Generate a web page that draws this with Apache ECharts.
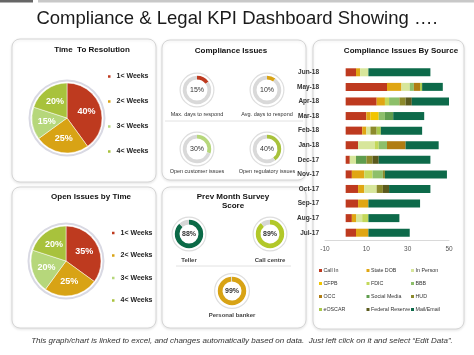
<!DOCTYPE html>
<html><head><meta charset="utf-8">
<script src="https://cdn.jsdelivr.net/npm/echarts@6/dist/echarts.min.js"></script>
<style>html,body{margin:0;padding:0;background:#fff}#c{width:474px;height:355px}</style>
</head><body><div id="c"></div>
<script>
// ---- data ----
const weekLabels = ['1< Weeks', '2< Weeks', '3< Weeks', '4< Weeks'];
const resolutionValues = [40, 25, 15, 20];
const openIssueValues = [35, 25, 20, 20];
const complianceLabels = ['Max. days to respond', 'Avg. days to respond', 'Open customer issues', 'Open regulatory issues'];
const complianceValues = [15, 10, 30, 40];
const surveyLabels = ['Teller', 'Call centre', 'Personal banker'];
const surveyValues = [88, 89, 99];
const months = ['Jul-17','Aug-17','Sep-17','Oct-17','Nov-17','Dec-17','Jan-18','Feb-18','Mar-18','Apr-18','May-18','Jun-18'];
const sources = ['Call In','State DOB','In Person','CFPB','FDIC','BBB','OCC','Social Media','HUD','eOSCAR','Federal Reserve','Mail/Email'];
const callIn   = [5, 3, 6, 6, 3, 2, 6, 8, 10, 15, 20, 5];
const stateDOB = [6, 2, 5, 3, 6, 0, 0, 2, 2, 4, 7, 2];
const inPerson = [0, 3, 0, 6, 0, 3, 8, 2, 0, 0, 4, 4];
const cfpb     = [0, 0, 0, 0, 0, 0, 0, 0, 4, 0, 0, 0];
const fdic     = [0, 3, 0, 0, 4, 0, 2, 0, 0, 2, 0, 0];
const bbb      = [0, 0, 0, 0, 5, 0, 4, 0, 3, 5, 2, 0];
const occ      = [0, 0, 0, 0, 0, 0, 9, 0, 0, 0, 3, 0];
const socialMedia = [0, 0, 0, 0, 0, 5, 0, 0, 4, 0, 0, 0];
const hud      = [0, 0, 0, 3, 1, 3, 0, 3, 0, 3, 0, 0];
const eoscar   = [0, 0, 0, 0, 0, 0, 0, 2, 0, 0, 1, 0];
const fedReserve = [0, 0, 0, 3, 0, 3, 0, 0, 0, 3, 0, 0];
const mailEmail = [20, 15, 25, 20, 30, 25, 16, 20, 15, 18, 10, 30];
const xTicks = [-10, 10, 30, 50];

// ---- styles ----
const FONT = 'Liberation Sans, Arial, sans-serif';
const weekColors = ['#BE3A1F', '#D8A315', '#B6D77B', '#A8C23C'];
const complianceColors = ['#BE3A1F', '#D8A315', '#B6D77B', '#A8C23C'];
const surveyColors = ['#0B6A47', '#B2C829', '#D8A315'];
const sourceColors = ['#BE3A1F','#E0A613','#D7E69B','#F2C500','#C3D85A','#8DBF6A','#B07D12','#5F9D4E','#8C8A2C','#A9C84B','#5A5A1E','#0D6A4A'];
const sourceData = [callIn, stateDOB, inPerson, cfpb, fdic, bbb, occ, socialMedia, hud, eoscar, fedReserve, mailEmail];

const chart = echarts.init(document.getElementById('c'), null, {renderer: 'canvas'});

function panel(x, y, w, h) {
  return {type: 'rect', z: 0, shape: {x: x, y: y, width: w, height: h, r: 8},
    style: {fill: '#fff', stroke: '#d6d6d6', lineWidth: 1, shadowBlur: 3, shadowColor: 'rgba(0,0,0,0.10)', shadowOffsetY: 1}};
}
function txt(x, y, t, size, weight, color, italic) {
  return {type: 'text', z: 5, x: x, y: y,
    style: {text: t, fontSize: size, fontWeight: weight || 'normal', fontStyle: italic ? 'italic' : 'normal', fill: color || '#111', fontFamily: FONT, align: 'center', verticalAlign: 'middle'}};
}

const series = [];
// big pies
function bigPie(center, values) {
  series.push({type: 'pie', silent: true, center: center, radius: [36.5, 38.5], label: {show: false}, z: 1,
    data: [{value: 1, name: 'ring', itemStyle: {color: '#d9d9e3'}}]});
  series.push({type: 'pie', center: center, radius: [0, 35], startAngle: 90, clockwise: true, z: 3,
    itemStyle: {borderColor: '#fff', borderWidth: 0.5},
    label: {show: true, position: 'inside', formatter: '{c}%', color: '#fff', fontWeight: 'bold', fontSize: 9, fontFamily: FONT},
    labelLine: {show: false},
    data: weekLabels.map((n, i) => ({name: n, value: values[i], itemStyle: {color: weekColors[i]}}))});
}
bigPie([67, 118], resolutionValues);
bigPie([66, 261], openIssueValues);

// small gauges
function ringGauge(center, value, color, inner, outer, ringR, baseColor, labelStyle) {
  series.push({type: 'pie', silent: true, center: center, radius: [ringR, ringR + 1.2], label: {show: false}, z: 3,
    data: [{value: 1, name: 'ring', itemStyle: {color: '#dedede'}}]});
  series.push({type: 'pie', silent: true, center: center, radius: [inner, outer], startAngle: 90, clockwise: true, z: 3,
    labelLine: {show: false},
    data: [
      {value: value, name: 'v', itemStyle: {color: color},
       label: Object.assign({show: true, position: 'center', formatter: '{c}%', fontFamily: FONT, color: '#333'}, labelStyle)},
      {value: 100 - value, name: 'rest', itemStyle: {color: baseColor}, label: {show: false}}
    ]});
}
const compCenters = [[197, 90], [267, 90], [197, 149], [267, 149]];
complianceValues.forEach((v, i) => ringGauge(compCenters[i], v, complianceColors[i], 10.5, 14.2, 16.3, '#d9d9d9', {fontSize: 7}));
const survCenters = [[189, 234], [270, 234], [232, 291]];
surveyValues.forEach((v, i) => ringGauge(survCenters[i], v, surveyColors[i], 9.5, 14.2, i === 2 ? 16.8 : 16.3, '#d6d6d6', {fontSize: 7, fontWeight: 'bold'}));

// stacked bars
sources.forEach((s, i) => {
  series.push({type: 'bar', name: s, stack: 'src', xAxisIndex: 0, yAxisIndex: 0, barWidth: 8, z: 3,
    itemStyle: {color: sourceColors[i]}, data: sourceData[i]});
});

const legendCols = [
  [sources[0], sources[3], sources[6], sources[9]],
  [sources[1], sources[4], sources[7], sources[10]],
  [sources[2], sources[5], sources[8], sources[11]]
];
const legendLefts = [319, 366.5, 411];
const legends = legendCols.map((d, i) => ({
  data: d, orient: 'vertical', left: legendLefts[i], top: 267, itemGap: 6, itemWidth: 3, itemHeight: 3,
  icon: 'rect', selectedMode: false, padding: 0,
  textStyle: {fontSize: 5.3, fontFamily: FONT, color: '#333', lineHeight: 7, padding: [0, 0, 0, -3.5]}
}));
legends.push({data: weekLabels, orient: 'vertical', left: 106, top: 72.5, itemGap: 17, itemWidth: 4.5, itemHeight: 4.5,
  icon: 'rect', selectedMode: false, padding: 0, textStyle: {fontSize: 7, fontWeight: 'bold', fontFamily: FONT, color: '#222', lineHeight: 8}});
legends.push({data: weekLabels, orient: 'vertical', left: 110, top: 229, itemGap: 14.5, itemWidth: 4.5, itemHeight: 4.5,
  icon: 'rect', selectedMode: false, padding: 0, textStyle: {fontSize: 7, fontWeight: 'bold', fontFamily: FONT, color: '#222', lineHeight: 8}});

const graphics = [
  {type: 'rect', z: 0, shape: {x: 0, y: 0, width: 33, height: 2.5}, style: {fill: '#666'}},
  {type: 'rect', z: 0, shape: {x: 38, y: 0, width: 436, height: 2.5}, style: {fill: '#c8c8c8'}},
  txt(237, 19, 'Compliance & Legal KPI Dashboard Showing ….', 18.5, 'normal', '#1a1a1a'),
  panel(12, 39, 144, 143),
  panel(12, 187, 144, 141),
  panel(162, 40, 144, 140),
  panel(162, 187, 144, 141),
  panel(313, 40, 151, 289),
  txt(92, 50, 'Time  To Resolution', 8, 'bold'),
  txt(91, 197, 'Open Issues by Time', 8, 'bold'),
  txt(231, 51, 'Compliance Issues', 8, 'bold'),
  txt(233, 197, 'Prev Month Survey', 8, 'bold'),
  txt(233, 206, 'Score', 8, 'bold'),
  txt(401, 51, 'Compliance Issues By Source', 8, 'bold'),
  {type: 'line', z: 2, shape: {x1: 165, y1: 121, x2: 303, y2: 121}, style: {stroke: '#e2e2e2', lineWidth: 1}},
  {type: 'line', z: 2, shape: {x1: 176, y1: 266, x2: 291, y2: 266}, style: {stroke: '#e2e2e2', lineWidth: 1}},
  txt(242, 341, 'This graph/chart is linked to excel, and changes automatically based on data.  Just left click on it and select “Edit Data”.', 8, 'normal', '#333', true)
];
const compLabelPos = [[197, 114], [267, 114], [197, 171], [267, 171]];
complianceLabels.forEach((l, i) => graphics.push(txt(compLabelPos[i][0], compLabelPos[i][1], l, 5.5, 'normal', '#333')));
const survLabelPos = [[189, 260], [270, 260], [232, 315]];
surveyLabels.forEach((l, i) => graphics.push(txt(survLabelPos[i][0], survLabelPos[i][1], l, 6, 'bold', '#444')));

chart.setOption({
  animation: false,
  backgroundColor: '#fff',
  textStyle: {fontFamily: FONT},
  legend: legends,
  grid: {left: 325, right: 25, top: 65, bottom: 115, containLabel: false},
  xAxis: {type: 'value', min: xTicks[0], max: xTicks[xTicks.length - 1], interval: xTicks[1] - xTicks[0],
    axisLine: {show: true, lineStyle: {color: '#d9d9d9'}}, axisTick: {show: false}, splitLine: {show: false},
    axisLabel: {fontSize: 6.5, color: '#555', margin: 6, fontFamily: FONT}},
  yAxis: {type: 'category', data: months, axisLine: {show: false}, axisTick: {show: false},
    axisLabel: {fontSize: 6.5, fontWeight: 'bold', color: '#333', margin: 6, fontFamily: FONT}},
  graphic: {elements: graphics},
  series: series
});
</script></body></html>
